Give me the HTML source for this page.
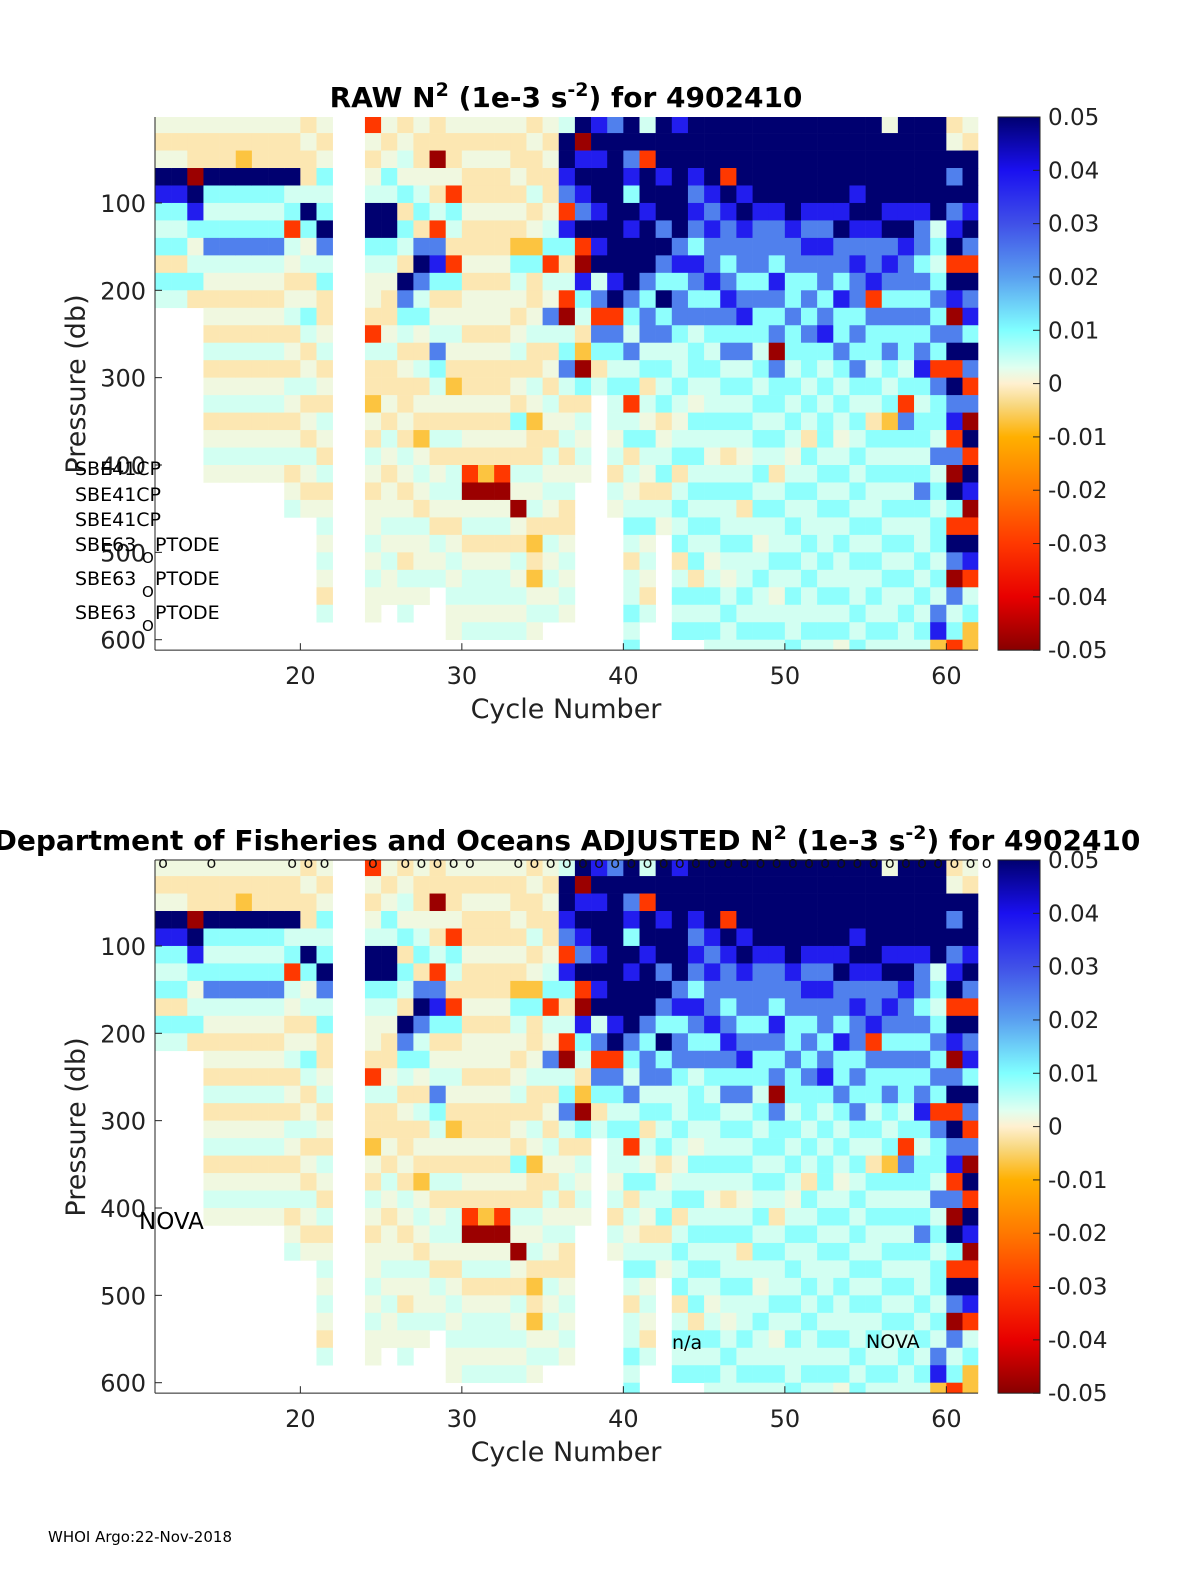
<!DOCTYPE html>
<html><head><meta charset="utf-8"><style>
body{margin:0;background:#fff;}
svg{display:block;font-family:"DejaVu Sans","Liberation Sans",sans-serif;}
</style></head><body>
<svg id="fig" width="1200" height="1575" viewBox="0 0 1200 1575" xmlns="http://www.w3.org/2000/svg">
<defs>
<linearGradient id="cmap" x1="0" y1="1" x2="0" y2="0">
<stop offset="0" stop-color="#880000"/><stop offset="0.1" stop-color="#e80000"/><stop offset="0.2" stop-color="#ff3800"/>
<stop offset="0.3" stop-color="#ff7800"/><stop offset="0.4" stop-color="#ffb000"/><stop offset="0.46" stop-color="#f8d880"/>
<stop offset="0.5" stop-color="#fff0d0"/><stop offset="0.53" stop-color="#e0fff0"/><stop offset="0.6" stop-color="#80ffff"/>
<stop offset="0.7" stop-color="#5aa0f0"/><stop offset="0.8" stop-color="#4050e8"/><stop offset="0.9" stop-color="#1a10f0"/>
<stop offset="1" stop-color="#000070"/></linearGradient>
</defs>
<g id="top"></g>
<g id="bot"></g>
<text x="566" y="107" text-anchor="middle" font-size="28" font-weight="bold">RAW N<tspan dy="-11" font-size="19">2</tspan><tspan dy="11"> (1e-3 s</tspan><tspan dy="-11" font-size="19">-2</tspan><tspan dy="11">) for 4902410</tspan></text>
<text x="567" y="850" text-anchor="middle" font-size="28" font-weight="bold">Department of Fisheries and Oceans  ADJUSTED N<tspan dy="-11" font-size="19">2</tspan><tspan dy="11"> (1e-3 s</tspan><tspan dy="-11" font-size="19">-2</tspan><tspan dy="11">) for 4902410</tspan></text>
<g font-size="19">
<text x="75" y="475">SBE41CP</text><text x="75" y="501">SBE41CP</text><text x="75" y="526">SBE41CP</text>
<text x="75" y="551">SBE63</text><text x="142" y="563" font-size="15">O</text><text x="155" y="551">PTODE</text>
<text x="75" y="585">SBE63</text><text x="142" y="597" font-size="15">O</text><text x="155" y="585">PTODE</text>
<text x="75" y="619">SBE63</text><text x="142" y="631" font-size="15">O</text><text x="155" y="619">PTODE</text>
</g>
<text x="139" y="1229" font-size="23">NOVA</text>
<text x="672" y="1349" font-size="19">n/a</text>
<text x="866" y="1348" font-size="19">NOVA</text>
<text x="48" y="1542" font-size="15">WHOI Argo:22-Nov-2018</text>
</svg>
<script>
const cycles=[11,12,13,14,15,16,17,18,19,20,21,22,23,24,25,26,27,28,29,30,31,32,33,34,35,36,37,38,39,40,41,42,43,44,45,46,47,48,49,50,51,52,53,54,55,56,57,58,59,60,61];
const profiles=[
"wywnbclcycl","wywnbclcycl","wyyknbcwlcy",
"wyynclcmlwywylywlywlw","wyynclcmlwywylywlywlw","wyonclcmlwywylywlywlw","wyynclcmlwywylywlywlw","wyynclcmlwywylywlywlw",
"wyynlcrlwywlywylwywlywl","ywyylncwlywclywlywylwyw","wywclcnmlcyywlywylwylywlwlwyl",
"","",
"rwywlnnclwwyrlyyowylwywwlwlww","wywclnnclwyywlyywylwywwlwlww","ywlwcyclynmclywyywylwywlwylwl",
"wyywlcymnmlcwylywyowlwylwwlw","yykwylrmbcywlmclwylywlwylwl","wyywrclyrcywlwyowylyllwywlwlww",
"wywyywyywywwywyywywyrkwlywllwl","wywyywyywywwywyywywyokwlywllwl","wywyywyywywwywyywywyrkwlywllwl",
"wyywywyoclwywlywycwylwkwylwlwl","ywyylywocyywlyylwoyylwlyoyowlw","wywyywlcrlwmlywylwylwlwylwlwl",
"lnnbmrbcylrklcmlywlywlyywlwlw","nkbnbmnrkbclyokcylwlw","bnbnnbnbnlmrmcyl",
"mnnnnnnnnbnrmclcllwlylw","nnmbcnbnnnmclmlcrlcylwlclyllclc","lnrnnbnnnmcmmlcylwclwylcwlwyl",
"nnnbnnmnmcncmlclcywlcylw","bnnnnnnmbcmmcllclwlcylclcylclc","nnnbmbmcbmcmlcclwclclclclcyclc",
"nnnnbmbmmbcmclcllclwlclclwlclcl","nnnrnbmmcmbmcmlclclylcllclwlcll","nnnnbnbmmcmbcmlclclwlcylcllclcl",
"nnnnnbmmmcmcclclclclclclwlcllcl","nnnnnbmmcbmcmkmcclclylcllclwlcl","nnnnnnbmmccmcclclclwlclclclcllc",
"nnnnnbmbmcmcmcclclyclcllclcllcl","nnnnnbmbmmcmbclclcclclcllclclcl","nnnnnbnmmcbccmclclwlclclcllclcw",
"nnnnbnbmbmmcmcmclclclclclcllclc","nnnnnnbmmbrmcclclyclcllclclclcl","wnnnnbnmbmcmcmclcoclclclclcllcl",
"nnnnnbnbmmcmcclcrmclclclclclcll","nnnnnbmmcmcmcmbclcclcmcllclclcl","nnnnnnlclcmcmcrmcclmlclcclclmbo",
"ywnmnmbnrnbkmnrnmbrmkncrnmkmlcr","wynnnbnmrnmbcnmrmknrnbkrnbrlcoo"];
const codeVals={n:0.05,b:0.038,m:0.024,c:0.009,l:0.004,w:0.0015,y:-0.0015,o:-0.007,r:-0.03,k:-0.048};
const cbTicks=[0.05,0.04,0.03,0.02,0.01,0,-0.01,-0.02,-0.03,-0.04,-0.05];
const yTicks=[100,200,300,400,500,600];
const xTicks=[20,30,40,50,60];
const circleCycles=[11,14,19,20,21,24,26,27,28,29,30,33,34,35,36,37,38,39,40,41,42,43,44,45,46,47,48,49,50,51,52,53,54,55,56,57,58,59,60,61,62];

const NS="http://www.w3.org/2000/svg";
const X0=155,X1=978,C0=11,PX=16.15;
const xs=c=>X0+(c-C0)*PX;
const PMIN=1.6,PMAX=612,PY=0.8735;
const stops=[[-0.05,[136,0,0]],[-0.04,[232,0,0]],[-0.03,[255,56,0]],[-0.02,[255,120,0]],[-0.01,[255,176,0]],[-0.004,[248,216,128]],[0,[255,240,208]],[0.003,[224,255,240]],[0.01,[128,255,255]],[0.02,[90,160,240]],[0.03,[64,80,232]],[0.04,[26,16,240]],[0.05,[0,0,112]]];
function cmap(v){v=Math.max(-0.05,Math.min(0.05,v));for(let i=0;i<stops.length-1;i++){const a=stops[i],b=stops[i+1];if(v<=b[0]){const t=(v-a[0])/(b[0]-a[0]);const c=a[1].map((q,k)=>Math.round(q+(b[1][k]-q)*t));return `rgb(${c[0]},${c[1]},${c[2]})`;}}return 'rgb(0,0,112)';}
function mk(tag,attrs,parent){const e=document.createElementNS(NS,tag);for(const k in attrs)e.setAttribute(k,attrs[k]);parent.appendChild(e);return e;}

function panel(g,top,withCircles){
  const ys=p=>top+(p-PMIN)*PY;
  const bottom=ys(PMAX);
  const heat=mk('g',{},g);
  
  
  cycles.forEach((c,i)=>{
    const s=profiles[i];
    for(let j=0;j<s.length;j++){
      const v=codeVals[s[j]]; if(v===undefined) continue;
      const p0=Math.max(PMIN,20*j), p1=Math.min(PMAX,20*j+20); if(p1<=p0) continue;
      const x0=xs(c), x1=Math.min(X1,xs(c+1));
      const r=mk('rect',{x:x0.toFixed(2),y:ys(p0).toFixed(2),width:(x1-x0+0.3).toFixed(2),height:(ys(p1)-ys(p0)+0.3).toFixed(2),fill:cmap(v)},heat);
      
      
    }
  });
  const ax=mk('g',{stroke:'#222','stroke-width':1},g);
  
  
  mk('line',{x1:X0,y1:top,x2:X0,y2:bottom},ax);
  mk('line',{x1:X0,y1:bottom,x2:X1,y2:bottom},ax);
  if(withCircles) mk('line',{x1:X0,y1:top,x2:X1,y2:top},ax);
  yTicks.forEach(t=>{
    const y=ys(t);
    mk('line',{x1:X0,y1:y,x2:X0+7,y2:y},ax);
    const tx=mk('text',{x:146,y:y+9,'text-anchor':'end','font-size':24,fill:'#222'},g);
    tx.textContent=t;
    
    
  });
  xTicks.forEach(t=>{
    const x=xs(t);
    mk('line',{x1:x,y1:bottom,x2:x,y2:bottom-7},ax);
    const tx=mk('text',{x:x,y:bottom+34,'text-anchor':'middle','font-size':24,fill:'#222'},g);
    tx.textContent=t;
    
    
  });
  const xl=mk('text',{x:566,y:bottom+68,'text-anchor':'middle','font-size':27,fill:'#222'},g);
  xl.textContent='Cycle Number';
  
  
  const yl=mk('text',{x:0,y:0,'text-anchor':'middle','font-size':27,fill:'#222',transform:`translate(85,${top+267}) rotate(-90)`},g);
  yl.textContent='Pressure (db)';
  
  
  const cb=mk('rect',{x:998,y:top,width:42,height:bottom-top,fill:'url(#cmap)',stroke:'#222','stroke-width':1},g);
  
  
  cbTicks.forEach(t=>{
    const y=top+(0.05-t)/0.1*(bottom-top);
    mk('line',{x1:1033,y1:y,x2:1040,y2:y,stroke:'#222'},g);
    const tx=mk('text',{x:1048,y:y+8,'font-size':23,fill:'#222'},g);
    tx.textContent=t===0?'0':t.toFixed(2);
    
    
  });
  if(withCircles){
    circleCycles.forEach(c=>{
      const o=mk('text',{x:xs(c)+8,y:top+8,'text-anchor':'middle','font-size':16,fill:'#111'},g);
      o.textContent='o';
      
      
    });
  }
}
panel(document.getElementById('top'),117,false);
panel(document.getElementById('bot'),860,true);
</script>
</body></html>
